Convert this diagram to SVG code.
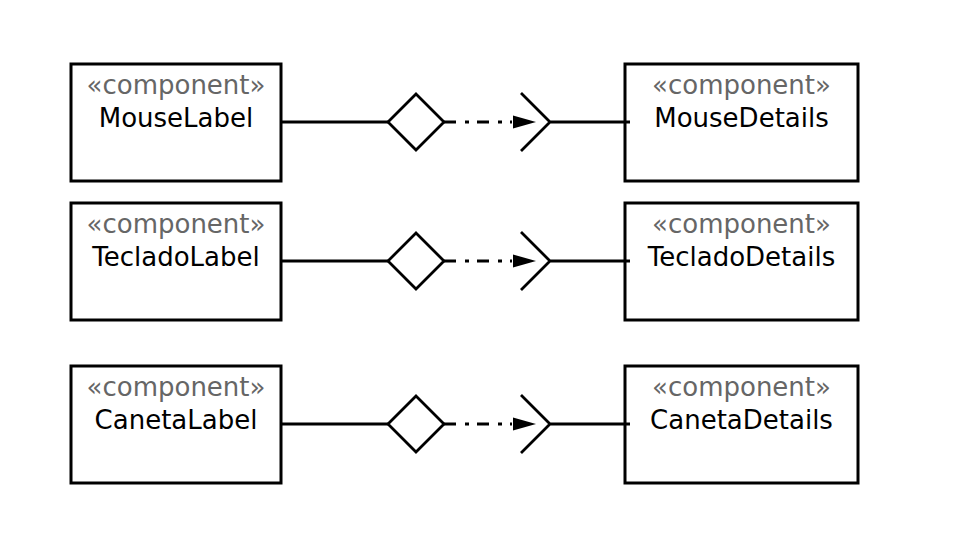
<svg xmlns="http://www.w3.org/2000/svg" width="960" height="540" viewBox="0 0 960 540">
<defs>
<style>
.box{fill:#fff;stroke:#000;stroke-width:3}
.st{font-family:"DejaVu Sans",Verdana,sans-serif;font-size:26px;fill:#666;text-anchor:middle}
.nm{font-family:"DejaVu Sans",Verdana,sans-serif;font-size:26px;fill:#000;text-anchor:middle}
.ln{fill:none;stroke:#000;stroke-width:2.8}
.dd{fill:none;stroke:#000;stroke-width:2.8;stroke-dasharray:12,9,4,8}
.dia{fill:#fff;stroke:#000;stroke-width:2.8}
.ah{fill:#000}
</style>
<g id="conn">
<path class="ln" d="M280 0H388"/>
<path class="dia" d="M388 0L416 -28L444 0L416 28Z"/>
<path class="dd" d="M444 0H512"/>
<path class="ah" d="M513 -6.5L536 0L513 6.5Z"/>
<path class="ln" d="M521 -29L550 0L521 29M550 0H630"/>
</g>
</defs>
<g id="MouseLabel"><rect class="box" x="71" y="64" width="210" height="117"/><text class="st" x="176" y="94">«component»</text><text class="nm" x="176" y="127">MouseLabel</text></g>
<g id="MouseDetails"><rect class="box" x="625" y="64" width="233" height="117"/><text class="st" x="741.5" y="94">«component»</text><text class="nm" x="741.5" y="127">MouseDetails</text></g>
<g id="TecladoLabel"><rect class="box" x="71" y="203" width="210" height="117"/><text class="st" x="176" y="233">«component»</text><text class="nm" x="176" y="266">TecladoLabel</text></g>
<g id="TecladoDetails"><rect class="box" x="625" y="203" width="233" height="117"/><text class="st" x="741.5" y="233">«component»</text><text class="nm" x="741.5" y="266">TecladoDetails</text></g>
<g id="CanetaLabel"><rect class="box" x="71" y="366" width="210" height="117"/><text class="st" x="176" y="396">«component»</text><text class="nm" x="176" y="429">CanetaLabel</text></g>
<g id="CanetaDetails"><rect class="box" x="625" y="366" width="233" height="117"/><text class="st" x="741.5" y="396">«component»</text><text class="nm" x="741.5" y="429">CanetaDetails</text></g>
<g id="connectors">
<use href="#conn" x="0" y="122"/>
<use href="#conn" x="0" y="261"/>
<use href="#conn" x="0" y="424"/>
</g>
</svg>
